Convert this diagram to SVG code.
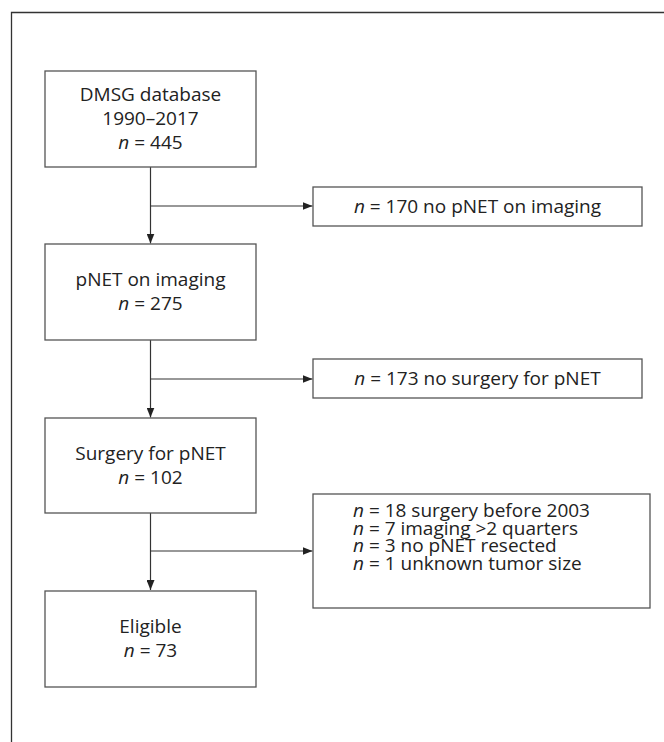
<svg xmlns="http://www.w3.org/2000/svg" width="664" height="742" viewBox="0 0 664 742">
<style>
.box{fill:#fff;stroke:#555;stroke-width:1.3}
.t{font-family:"Open Sans","Liberation Sans",sans-serif;font-size:19px;fill:#222}
.c{text-anchor:middle}
.i{font-style:italic}
.ln{fill:none;stroke:#333;stroke-width:1.2}
</style>
<defs>
<marker id="ah" viewBox="0 0 10 8" refX="10" refY="4" markerWidth="10" markerHeight="8" markerUnits="userSpaceOnUse" orient="auto">
<path d="M0,0 L10,4 L0,8 Z" fill="#222"/>
</marker>
</defs>
<rect width="664" height="742" fill="#fff"/>
<path d="M11.5,742 V12.5 H664" fill="none" stroke="#333" stroke-width="1.3"/>
<g id="connectors">
<path class="ln" d="M150.5,167 V243.5" marker-end="url(#ah)"/>
<path class="ln" d="M150.5,206 H312.5" marker-end="url(#ah)"/>
<path class="ln" d="M150.5,340 V417.5" marker-end="url(#ah)"/>
<path class="ln" d="M150.5,379 H312.5" marker-end="url(#ah)"/>
<path class="ln" d="M150.5,513 V590" marker-end="url(#ah)"/>
<path class="ln" d="M150.5,551 H312.5" marker-end="url(#ah)"/>
</g>
<g id="n1">
<rect class="box" x="45" y="71" width="211" height="96"/>
<text class="t c" x="150.5" y="101">DMSG database</text>
<text class="t c" x="150.5" y="125">1990–2017</text>
<text class="t c" x="150.5" y="149"><tspan class="i">n</tspan> = 445</text>
</g>
<g id="e1">
<rect class="box" x="313" y="187" width="329" height="39"/>
<text class="t c" x="477.5" y="213"><tspan class="i">n</tspan> = 170 no pNET on imaging</text>
</g>
<g id="n2">
<rect class="box" x="45" y="244" width="211" height="96"/>
<text class="t c" x="150.5" y="286">pNET on imaging</text>
<text class="t c" x="150.5" y="310"><tspan class="i">n</tspan> = 275</text>
</g>
<g id="e2">
<rect class="box" x="313" y="359" width="329" height="39"/>
<text class="t c" x="477.5" y="385"><tspan class="i">n</tspan> = 173 no surgery for pNET</text>
</g>
<g id="n3">
<rect class="box" x="45" y="418" width="211" height="95"/>
<text class="t c" x="150.5" y="460">Surgery for pNET</text>
<text class="t c" x="150.5" y="484"><tspan class="i">n</tspan> = 102</text>
</g>
<g id="e3">
<rect class="box" x="313" y="494" width="337" height="114"/>
<text class="t" x="353" y="517"><tspan class="i">n</tspan> = 18 surgery before 2003</text>
<text class="t" x="353" y="534.5"><tspan class="i">n</tspan> = 7 imaging &gt;2 quarters</text>
<text class="t" x="353" y="552"><tspan class="i">n</tspan> = 3 no pNET resected</text>
<text class="t" x="353" y="569.5"><tspan class="i">n</tspan> = 1 unknown tumor size</text>
</g>
<g id="n4">
<rect class="box" x="45" y="591" width="211" height="96"/>
<text class="t c" x="150.5" y="633">Eligible</text>
<text class="t c" x="150.5" y="657"><tspan class="i">n</tspan> = 73</text>
</g>
</svg>
